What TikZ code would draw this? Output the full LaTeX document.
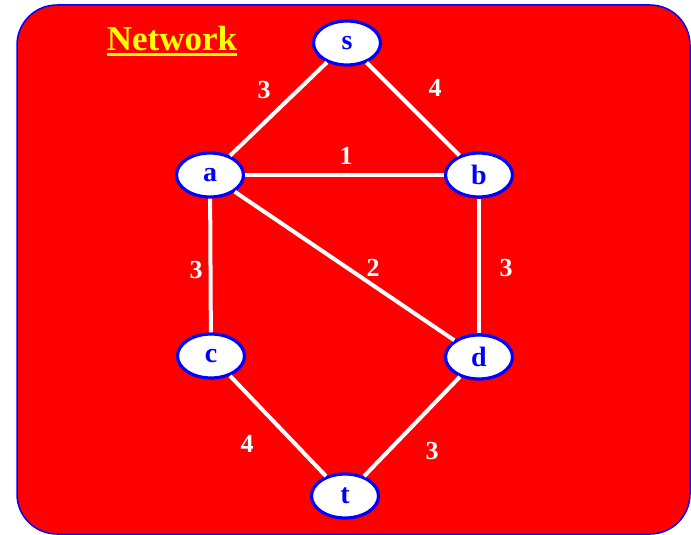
\documentclass[tikz,border=0pt]{standalone}
\usepackage{fontspec}
\setmainfont{Liberation Serif}
\usetikzlibrary{shapes.geometric}
\definecolor{bgred}{RGB}{255,0,0}
\definecolor{nodeblue}{RGB}{0,0,255}
\definecolor{ttlyellow}{RGB}{255,255,0}
\tikzset{
  vert/.style={ellipse, draw=nodeblue, line width=3.2pt, fill=white, minimum width=67pt, minimum height=44pt, inner sep=0pt, text=nodeblue, font=\fontsize{28}{28}\selectfont\bfseries},
  edge/.style={draw=white, line width=4pt},
  wlab/.style={text=white, font=\fontsize{26}{26}\selectfont\bfseries, inner sep=0pt}
}
\begin{document}
\begin{tikzpicture}[x=1pt,y=-1pt]
\useasboundingbox (0,0) rectangle (691,535);
\draw[fill=bgred, draw=nodeblue, line width=1.5pt, rounded corners=40pt] (17,5) rectangle (690,534);
\node[text=ttlyellow, font=\fontsize{35}{35}\selectfont\bfseries, inner sep=0pt, anchor=base] (title) at (172,51) {Network};
\draw[ttlyellow, line width=2.2pt] ([yshift=-3.5pt]title.base west) -- ([yshift=-3.5pt]title.base east);
\node[vert] (s) at (347,43) {s};
\node[vert] (a) at (210,175) {a};
\node[vert] (b) at (479,175) {b};
\node[vert] (c) at (211,356) {c};
\node[vert] (d) at (479,357) {d};
\node[vert] (t) at (345,496) {t};
\draw[edge] (s) -- (a);
\draw[edge] (s) -- (b);
\draw[edge] (a) -- (b);
\draw[edge] (a) -- (c);
\draw[edge] (a) -- (d);
\draw[edge] (b) -- (d);
\draw[edge] (c) -- (t);
\draw[edge] (d) -- (t);
\node[wlab] (l1) at (264,90) {3};
\node[wlab] (l2) at (435,88) {4};
\node[wlab] (l3) at (346,156) {1};
\node[wlab] (l4) at (196,270) {3};
\node[wlab] (l5) at (373,268) {2};
\node[wlab] (l6) at (506,268) {3};
\node[wlab] (l7) at (247,444) {4};
\node[wlab] (l8) at (432,451) {3};
\end{tikzpicture}
\end{document}
